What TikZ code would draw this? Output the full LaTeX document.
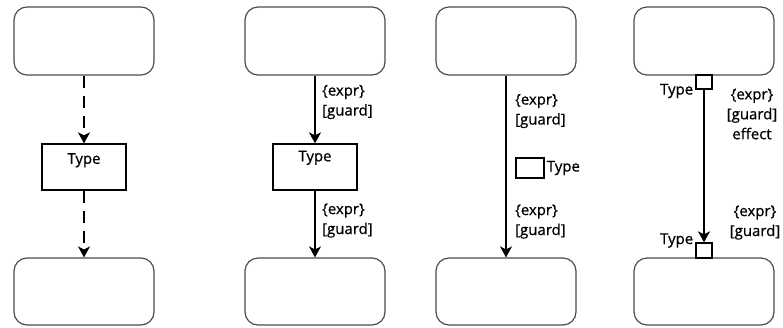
\documentclass[tikz,border=0pt]{standalone}
\usepackage{fontspec}
\setmainfont{Open Sans}[BoldFont=Open Sans,BoldFeatures={FakeBold=0.7}]
\usetikzlibrary{arrows.meta}

\begin{document}
\begin{tikzpicture}[x=1bp,y=-1bp,
  font=\fontsize{15}{20}\selectfont\bfseries,
  state/.style={draw=black!70,line width=1.2bp,rounded corners=13bp,minimum width=140bp,minimum height=68bp,inner sep=0pt},
  typebox/.style={draw,line width=1.3bp,minimum width=84bp,minimum height=46bp,inner sep=0pt},
  pin/.style={draw,line width=1.3bp,fill=white,minimum width=16bp,minimum height=14bp,inner sep=0pt},
  flow/.style={line width=1.2bp,-{Stealth[length=11bp,width=12bp,inset=3bp]}},
  guard/.style={align=left,inner sep=0pt}]
\useasboundingbox (0,0) rectangle (783,327);

\node [state] (top1) at (84,41) {};
\node [typebox,text depth=17bp] (type1) at (84,167) {Type};
\node [state,minimum height=67bp] (bot1) at (84,291.5) {};
\draw [flow,dash pattern=on 12bp off 8bp] (top1) -- (type1);
\draw [flow,dash pattern=on 12bp off 8bp] (type1) -- (bot1);

\node [state] (top2) at (315,41) {};
\node [typebox,text depth=22bp] (type2) at (315,167) {Type};
\node [state,minimum height=67bp] (bot2) at (315,291.5) {};
\draw [flow] (top2) -- (type2);
\draw [flow] (type2) -- (bot2);
\node [guard,anchor=west] (g2a) at (322,102) {\{expr\}\\{}[guard]};
\node [guard,anchor=west] (g2b) at (322,220.5) {\{expr\}\\{}[guard]};

\node [state] (top3) at (506,41) {};
\node [state,minimum height=67bp] (bot3) at (506,291.5) {};
\draw [flow] (top3) -- (bot3);
\node [guard,anchor=west] (g3a) at (515,111) {\{expr\}\\{}[guard]};
\node [draw,line width=1.3bp,minimum width=28bp,minimum height=20bp,inner sep=0pt,
  label={[inner sep=2bp]right:Type}] (obj3) at (530,168) {};
\node [guard,anchor=west] (g3b) at (515,221.5) {\{expr\}\\{}[guard]};

\node [state] (top4) at (704,41) {};
\node [state,minimum height=67bp] (bot4) at (704,291.5) {};
\node [pin,label={[anchor=east,yshift=-9bp,inner sep=2bp]west:Type}] (out4) at (704,82) {};
\node [pin,minimum height=15bp,label={[anchor=east,yshift=10bp,inner sep=2bp]west:Type}] (in4) at (704,250.5) {};
\draw [flow] (out4) -- (in4);
\node [guard,align=center] (g4a) at (752,114) {\{expr\}\\{}[guard]\\effect};
\node [guard,align=center] (g4b) at (755,222.5) {\{expr\}\\{}[guard]};
\end{tikzpicture}
\end{document}
